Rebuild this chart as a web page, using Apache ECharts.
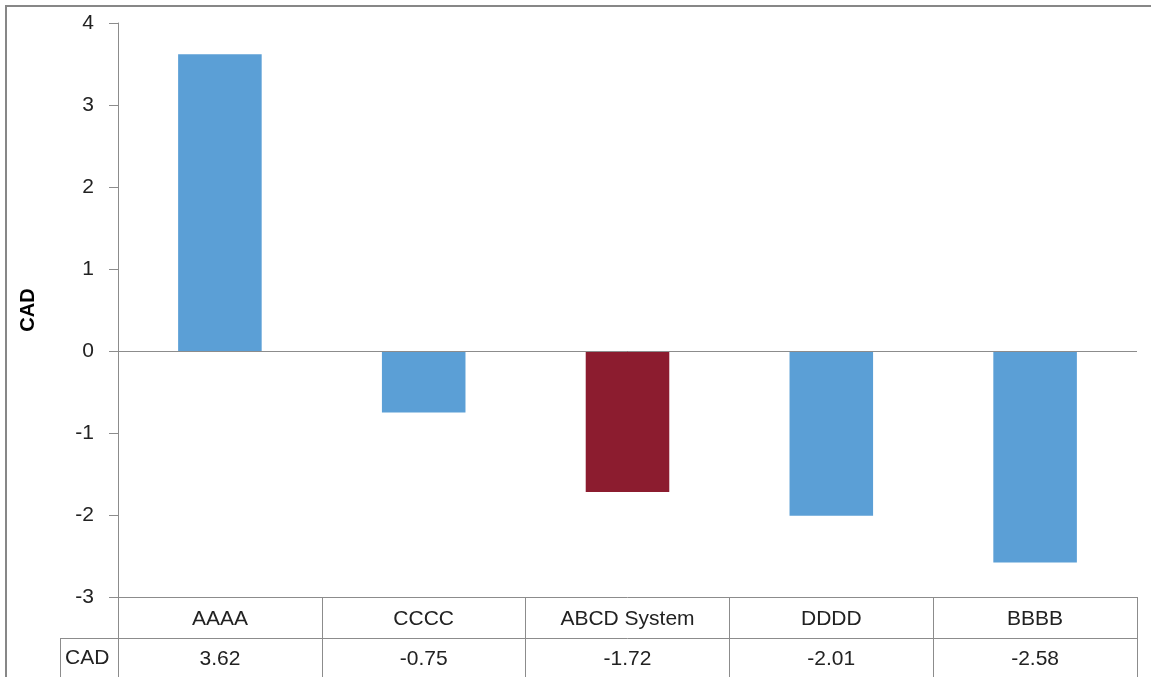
<!DOCTYPE html>
<html>
<head>
<meta charset="utf-8">
<script src="https://cdn.jsdelivr.net/npm/echarts@6/dist/echarts.min.js"></script>
<style>
  html, body { margin: 0; padding: 0; background: #fff; }
  #chart { width: 1151px; height: 677px; }
</style>
</head>
<body>
<div id="chart"></div>
<script>
// Chart data
const categories = ['AAAA', 'CCCC', 'ABCD System', 'DDDD', 'BBBB'];
const seriesName = 'CAD';
const values = [3.62, -0.75, -1.72, -2.01, -2.58];
const highlighted = 'ABCD System';

const FONT = '"Liberation Sans", Arial, sans-serif';
const GRID = { left: 118, right: 14, top: 23, bottom: 80 };
const LINE = '#8c8c8c';
const BLUE = '#5b9fd6';
const RED = '#8c1c2f';
const TEXT = '#222';

const chart = echarts.init(document.getElementById('chart'));

chart.setOption({
  animation: false,
  backgroundColor: '#fff',
  grid: GRID,
  xAxis: [
    {
      // category row of the data table
      type: 'category',
      data: categories,
      position: 'bottom',
      axisLine: { onZero: false, lineStyle: { color: LINE, width: 1 } },
      axisTick: { show: true, length: 80, lineStyle: { color: LINE, width: 1 } },
      axisLabel: { color: TEXT, fontFamily: FONT, fontSize: 21, margin: 12 },
      splitLine: { show: false }
    },
    {
      // value row of the data table
      type: 'category',
      data: categories,
      position: 'bottom',
      offset: 41,
      axisLine: { onZero: false, lineStyle: { color: LINE, width: 1 } },
      axisTick: { show: false },
      axisLabel: {
        color: TEXT, fontFamily: FONT, fontSize: 21, margin: 11,
        formatter: (v, i) => values[i].toFixed(2)
      },
      splitLine: { show: false }
    }
  ],
  yAxis: {
    type: 'value',
    min: -3,
    max: 4,
    interval: 1,
    name: seriesName,
    nameLocation: 'middle',
    nameRotate: 90,
    nameGap: 80,
    nameTextStyle: { fontFamily: FONT, fontSize: 20, fontWeight: 'bold', color: '#000' },
    axisLine: { show: true, lineStyle: { color: LINE, width: 1 } },
    axisTick: { show: true, length: 9, lineStyle: { color: LINE, width: 1 } },
    axisLabel: { color: TEXT, fontFamily: FONT, fontSize: 21, margin: 24 },
    splitLine: { show: false }
  },
  series: [{
    name: seriesName,
    type: 'bar',
    xAxisIndex: 0,
    barCategoryGap: '59%',
    data: values.map((v, i) => ({
      value: v,
      itemStyle: { color: categories[i] === highlighted ? RED : BLUE }
    })),
    markLine: {
      silent: true,
      symbol: 'none',
      label: { show: false },
      lineStyle: { color: LINE, width: 1, type: 'solid' },
      data: [{ yAxis: 0 }]
    }
  }],
  graphic: [
    // outer chart frame
    {
      type: 'rect',
      shape: { x: 6, y: 6, width: 1200, height: 720 },
      style: { fill: 'none', stroke: '#878787', lineWidth: 2 },
      silent: true
    },
    // legend cell of the value row
    {
      type: 'line',
      shape: { x1: 60, y1: 638.5, x2: 118, y2: 638.5 },
      style: { stroke: LINE, lineWidth: 1 }
    },
    {
      type: 'line',
      shape: { x1: 60.5, y1: 638.5, x2: 60.5, y2: 680 },
      style: { stroke: LINE, lineWidth: 1 }
    },
    {
      type: 'text',
      left: 65,
      top: 648,
      style: { text: seriesName, fontFamily: FONT, fontSize: 21, fill: TEXT }
    }
  ]
});
</script>
</body>
</html>
